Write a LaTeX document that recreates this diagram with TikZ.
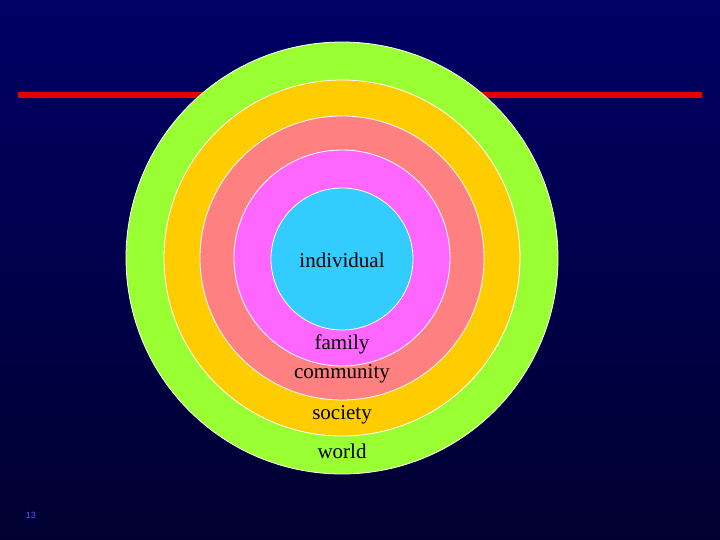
\documentclass[tikz,border=0pt]{standalone}
\usepackage{fontspec}
\setmainfont{Liberation Serif}
\newfontfamily\sansf{Liberation Sans}
\begin{document}
\begin{tikzpicture}[x=1pt,y=-1pt,
  ring/.style={draw=white,line width=0.8pt},
  lbl/.style={font=\fontsize{21}{24}\selectfont,text=black}]
\useasboundingbox (0,0) rectangle (720,540);
\shade[top color={rgb,255:red,0;green,0;blue,102},bottom color={rgb,255:red,0;green,0;blue,48}] (0,0) rectangle (720,540);
\fill[red!90!black] (18,92) rectangle (702,98);
\coordinate (c) at (342,258);
\fill[ring,fill={rgb,255:red,153;green,255;blue,51}] (c) circle (216);
\fill[ring,fill={rgb,255:red,255;green,204;blue,0}] (c) circle (178);
\fill[ring,fill={rgb,255:red,255;green,128;blue,128}] (c) circle (142);
\fill[ring,fill={rgb,255:red,255;green,102;blue,255}] (c) circle (108);
\fill[ring,fill={rgb,255:red,51;green,204;blue,255}] (342,259) circle (71);
\node[lbl] (i) at (342,260) {individual};
\node[lbl] (f) at (342,344) {family};
\node[lbl] (cm) at (342,374) {community};
\node[lbl] (s) at (342,415) {society};
\node[lbl] (w) at (342,451) {world};
\node[font=\sansf\fontsize{9}{10}\selectfont,text={rgb,255:red,90;green,90;blue,255}] (n) at (31,515) {13};
\end{tikzpicture}
\end{document}
